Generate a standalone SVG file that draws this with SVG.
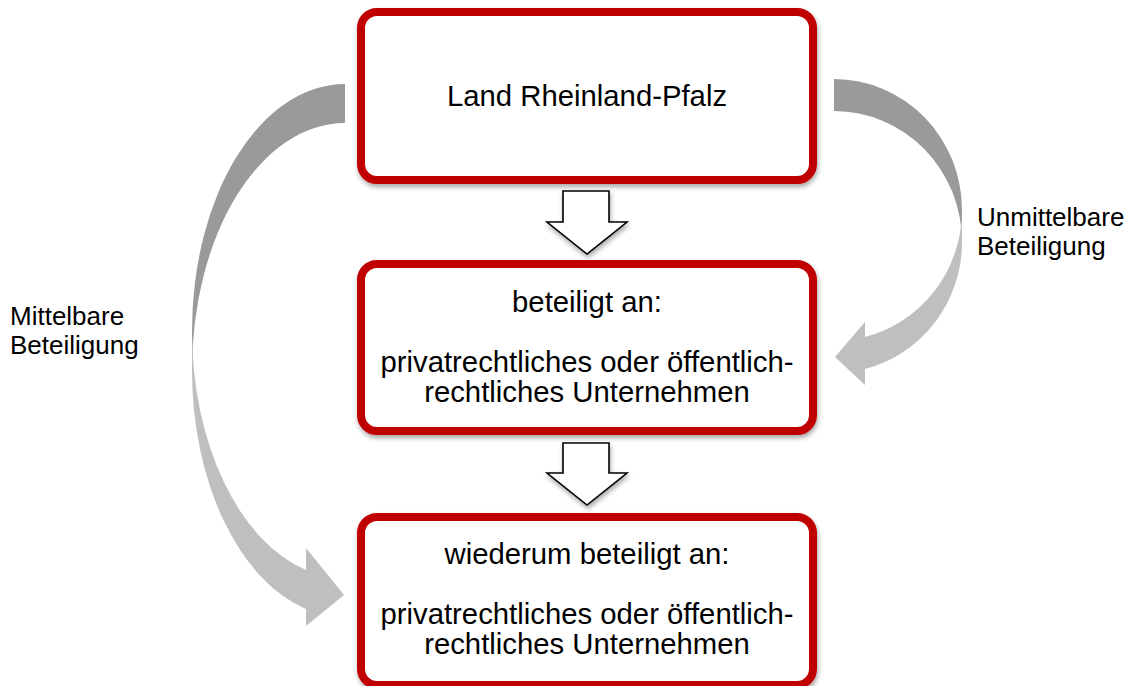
<svg xmlns="http://www.w3.org/2000/svg" width="1131" height="686" viewBox="0 0 1131 686">
  <defs>
    <filter id="sh" x="-10%" y="-10%" width="120%" height="130%">
      <feGaussianBlur in="SourceAlpha" stdDeviation="2.5"/>
      <feOffset dx="1" dy="3" result="b"/>
      <feComponentTransfer><feFuncA type="linear" slope="0.35"/></feComponentTransfer>
      <feMerge><feMergeNode/><feMergeNode in="SourceGraphic"/></feMerge>
    </filter>
  </defs>
  <style>
    .box{fill:#ffffff;stroke:#c00000;stroke-width:8}
    .t{font-family:"Liberation Sans",Arial,sans-serif;font-size:29.3px;fill:#000000;text-anchor:middle}
    .lbl{font-family:"Liberation Sans",Arial,sans-serif;font-size:26px;fill:#000000}
    .dark{fill:#9a9a9a}
    .light{fill:#bfbfbf}
    .down{fill:#ffffff;stroke:#000000;stroke-width:1.6;stroke-linejoin:miter}
  </style>
  <rect width="1131" height="686" fill="#ffffff"/>
  <g id="connectors">
    <g id="mittelbar">
      <path class="dark" d="M345,84 A153,247 0 0 0 192,331 L192,370 A153,247 0 0 1 345,123 Z"/>
      <path class="light" d="M192,331 A153,247 0 0 0 306,570 L306,548 L344,595 L306,626 L306,609 A153,247 0 0 1 192,370 Z"/>
    </g>
    <g id="unmittelbar">
      <path class="dark" d="M834,79 A128,131 0 0 1 962,210 L962,242 A128,131 0 0 0 834,111 Z"/>
      <path class="light" d="M962,210 A128,131 0 0 1 865,337 L865,322 L835,357 L865,385 L865,369 A128,131 0 0 0 962,242 Z"/>
    </g>
    <path class="down" filter="url(#sh)" d="M563,191 L609,191 L609,222 L627,222 L587,254 L547,222 L563,222 Z"/>
    <path class="down" filter="url(#sh)" d="M563,443 L609,443 L609,473 L627,473 L587,505 L547,473 L563,473 Z"/>
  </g>
  <g id="node-land">
    <rect class="box" filter="url(#sh)" x="361" y="12" width="452" height="168" rx="16"/>
    <text class="t" x="587" y="106">Land Rheinland-Pfalz</text>
  </g>
  <g id="node-unternehmen1">
    <rect class="box" filter="url(#sh)" x="361" y="264" width="452" height="167" rx="16"/>
    <text class="t" x="587" y="312">beteiligt an:</text>
    <text class="t" x="587" y="372">privatrechtliches oder öffentlich-</text>
    <text class="t" x="587" y="402">rechtliches Unternehmen</text>
  </g>
  <g id="node-unternehmen2">
    <rect class="box" filter="url(#sh)" x="361" y="517" width="452" height="168" rx="16"/>
    <text class="t" x="587" y="564">wiederum beteiligt an:</text>
    <text class="t" x="587" y="624">privatrechtliches oder öffentlich-</text>
    <text class="t" x="587" y="654">rechtliches Unternehmen</text>
  </g>
  <g id="label-mittelbar">
    <text class="lbl" x="10" y="325">Mittelbare</text>
    <text class="lbl" x="10" y="354">Beteiligung</text>
  </g>
  <g id="label-unmittelbar">
    <text class="lbl" x="977" y="226">Unmittelbare</text>
    <text class="lbl" x="977" y="255">Beteiligung</text>
  </g>
</svg>
